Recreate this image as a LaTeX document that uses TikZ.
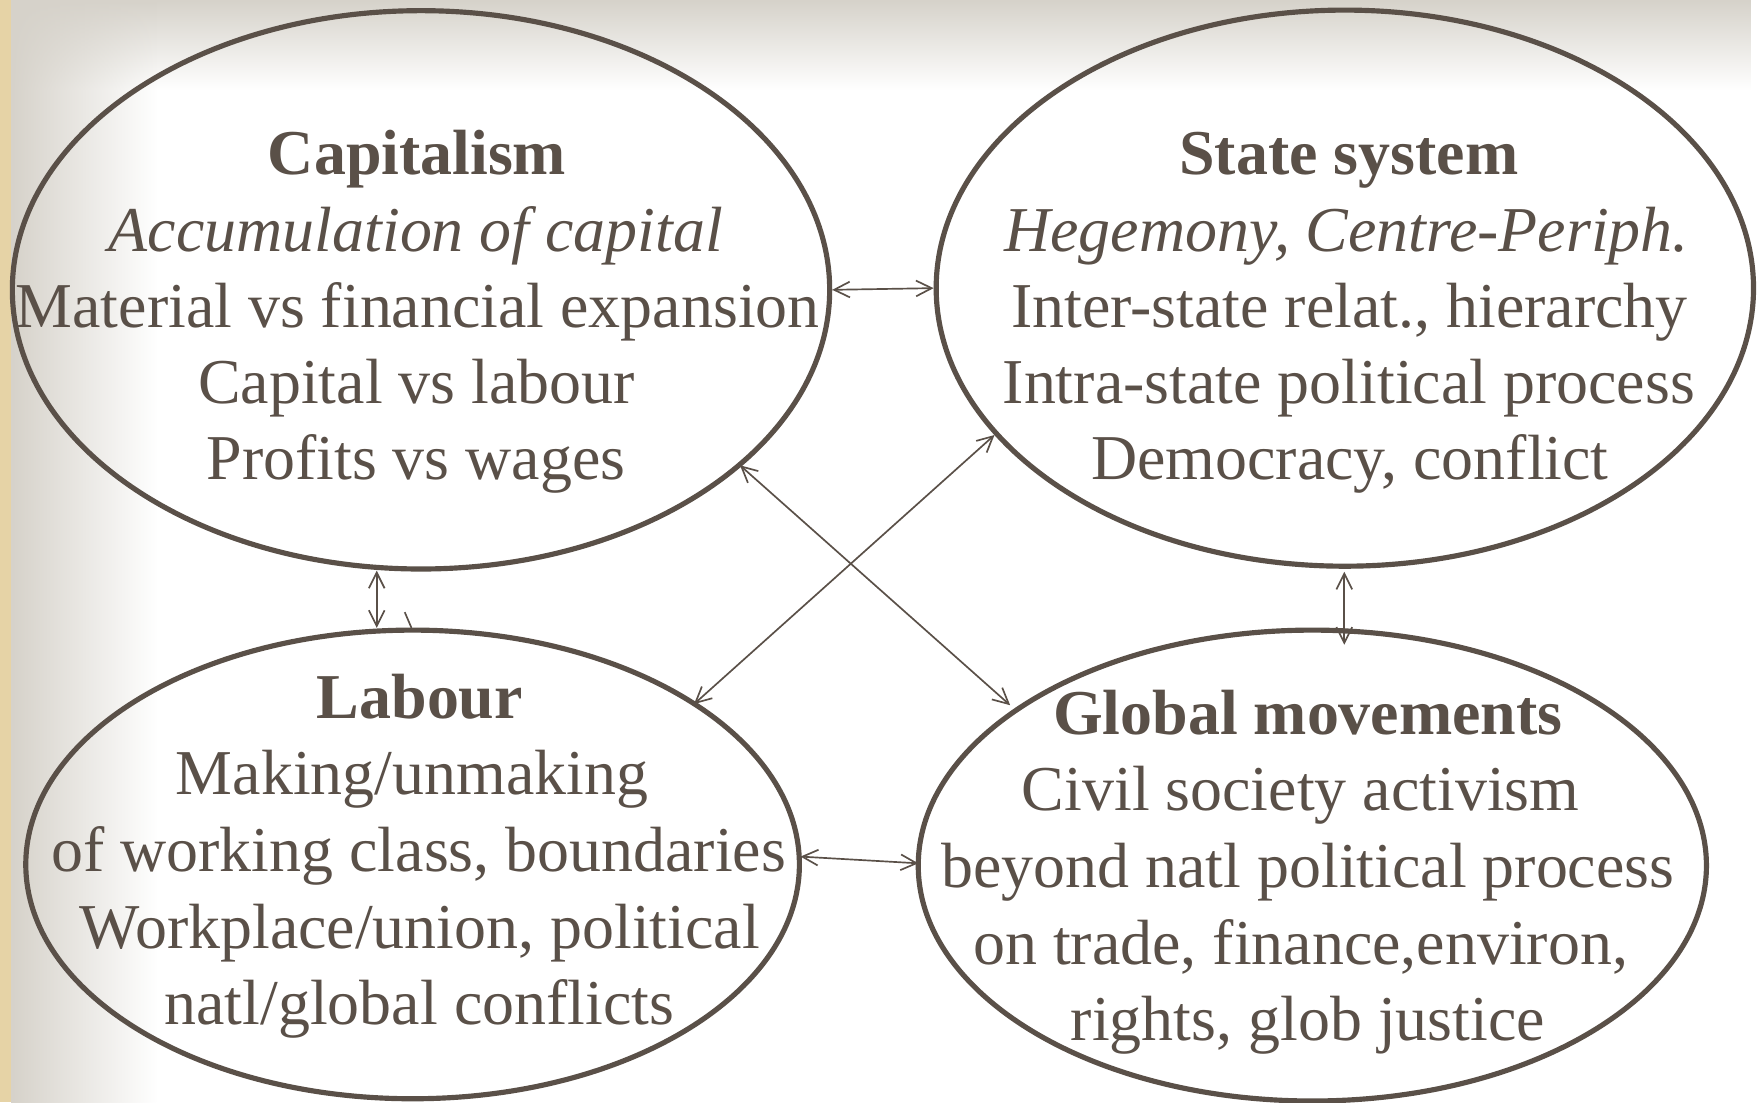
\documentclass[tikz,border=0pt]{standalone}
\usepackage{fontspec}
\setmainfont{Liberation Serif}
\usetikzlibrary{arrows.meta,shapes.geometric,fadings}
\definecolor{ink}{HTML}{5A5048}
\definecolor{beige}{HTML}{E6D3A6}
\definecolor{shadowgray}{HTML}{D6D2CA}
\tikzset{
  oval/.style={draw=ink, line width=4.6pt, ellipse, inner sep=0pt},
  txt/.style={text=ink, font=\fontsize{57}{68}\selectfont, inner sep=0pt, anchor=base},
  link/.style={draw=ink, line width=1.5pt, {Straight Barb[length=14pt,width=14pt]}-{Straight Barb[length=14pt,width=14pt]}},
  tick/.style={draw=ink, line width=1.5pt},
}
\begin{document}
\begin{tikzpicture}[x=1pt,y=-1pt]
\useasboundingbox (0,0) rectangle (1568,983);
% background
\fill[white] (0,0) rectangle (1568,983);
\fill[shadowgray, path fading=south] (10,0) rectangle (1568,80);
\fill[shadowgray, path fading=east] (10,0) rectangle (140,983);
\fill[beige] (0,0) rectangle (10,983);
% ellipses
\node[oval, minimum width=729pt, minimum height=498pt] (cap) at (375.5,258.5) {};
\node[oval, minimum width=729pt, minimum height=496pt] (state) at (1199.5,257) {};
\node[oval, minimum width=690pt, minimum height=418pt] (lab) at (368,771) {};
\node[oval, minimum width=703pt, minimum height=420pt] (glob) at (1170.5,772) {};
% texts: Capitalism
\node[txt] (cap1) at (372,156) {\bfseries Capitalism};
\node[txt] (cap2) at (371,224) {\itshape Accumulation of capital};
\node[txt] (cap3) at (372.5,292) {Material vs financial expansion};
\node[txt] (cap4) at (371.5,360) {Capital vs labour};
\node[txt] (cap5) at (371,428) {Profits vs wages};
% State system
\node[txt] (st1) at (1203,156) {\bfseries State system};
\node[txt] (st2) at (1201,224) {\itshape Hegemony, Centre-Periph.};
\node[txt] (st3) at (1203.5,292) {Inter-state relat., hierarchy};
\node[txt] (st4) at (1203,360) {Intra-state political process};
\node[txt] (st5) at (1204,428) {Democracy, conflict};
% Labour
\node[txt] (lb1) at (374.5,641) {\bfseries Labour};
\node[txt] (lb2) at (367.5,709) {Making/unmaking};
\node[txt] (lb3) at (373.5,777.5) {of working class, boundaries};
\node[txt] (lb4) at (374.5,846) {Workplace/union, political};
\node[txt] (lb5) at (374,914) {natl/global conflicts};
% Global movements
\node[txt] (gm1) at (1166.5,655) {\bfseries Global movements};
\node[txt] (gm2) at (1160,723) {Civil society activism};
\node[txt] (gm3) at (1166.5,791.5) {beyond natl political process};
\node[txt] (gm4) at (1160,860) {on trade, finance,environ,};
\node[txt] (gm5) at (1166.5,928) {rights, glob justice};
% connector ends
\coordinate (cl1) at (336,509);
\coordinate (cl2) at (336,560);
\coordinate (sg1) at (1199,510);
\coordinate (sg2) at (1199,575);
\coordinate (lg1) at (714,764);
\coordinate (lg2) at (819,770);
\coordinate (cg1) at (660,415);
\coordinate (cg2) at (901,629);
\coordinate (sl1) at (887,388);
\coordinate (sl2) at (619,628);
\coordinate (tk1) at (361,546);
\coordinate (tk2) at (367,560);
% connectors
\draw[link] (cap.east) -- (state.west);
\draw[link] (cl1) -- (cl2);
\draw[link] (sg1) -- (sg2);
\draw[link] (lg1) -- (lg2);
\draw[link] (cg1) -- (cg2);
\draw[link] (sl1) -- (sl2);
\draw[tick] (tk1) -- (tk2);
\end{tikzpicture}
\end{document}
